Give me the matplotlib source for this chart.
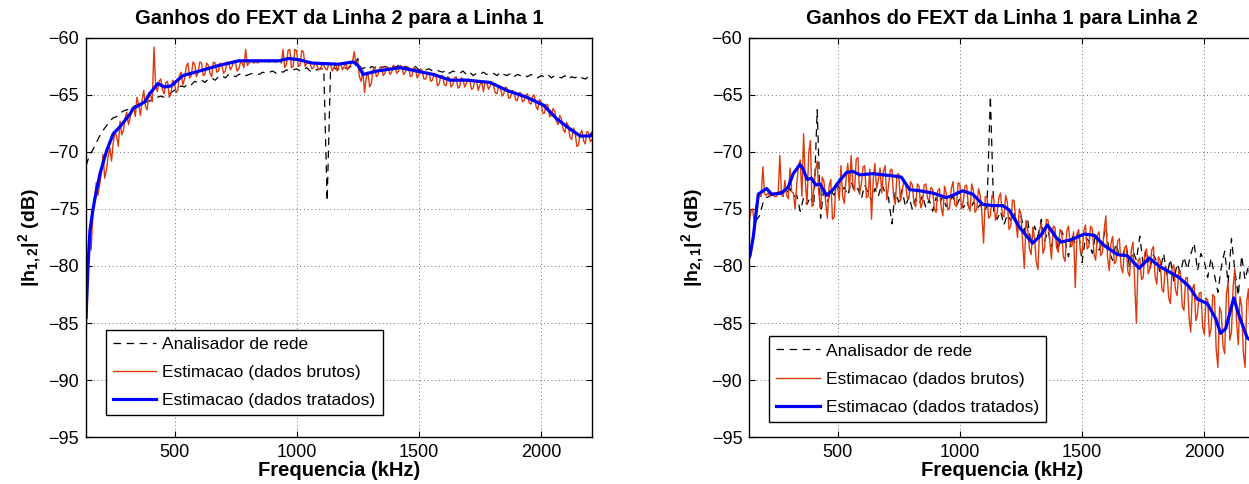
# FEXT gains between line 1 and line 2 (network analyser vs estimation)
import matplotlib
matplotlib.use('Agg')
import matplotlib.pyplot as plt
import numpy as np

plt.rcParams['font.family'] = ['Liberation Sans', 'DejaVu Sans']
plt.rcParams['mathtext.fontset'] = 'custom'
plt.rcParams['mathtext.rm'] = 'Liberation Sans'
plt.rcParams['mathtext.bf'] = 'Liberation Sans:bold'

# tone grids (kHz): analyser and raw estimates
freq = np.linspace(138, 2208, 150)
freq_raw = np.linspace(138, 2208, 299)

# ---- line 2 -> line 1 ----
analyser_21 = [
    -71.2, -70.3, -69.8, -69.2, -68.6, -68.1, -67.7, -67.3, -67.0, -66.9,
    -66.6, -66.4, -66.3, -66.2, -66.0, -65.9, -65.8, -65.6, -65.6, -65.5,
    -65.3, -65.2, -65.1, -65.2, -65.0, -64.8, -64.6, -64.4, -64.2, -64.3,
    -64.0, -64.1, -63.8, -63.9, -63.7, -63.9, -63.6, -63.5, -63.7, -63.4,
    -63.3, -63.5, -63.2, -63.2, -63.4, -63.2, -63.1, -63.3, -63.2, -63.1,
    -63.1, -63.2, -63.0, -63.1, -63.0, -62.9, -63.1, -62.9, -63.0, -62.8,
    -62.9, -62.8, -62.7, -62.9, -62.8, -62.6, -62.9, -62.7, -62.8, -62.7,
    -62.7, -74.3, -62.7, -62.6, -62.8, -62.6, -62.6, -62.7, -62.5, -62.4,
    -61.8, -62.7, -62.6, -62.8, -62.5, -62.6, -62.4, -62.6, -62.5, -62.7,
    -62.5, -62.6, -62.4, -62.7, -62.5, -62.6, -62.7, -62.5, -62.8, -62.7,
    -62.8, -62.7, -62.9, -62.8, -62.9, -63.0, -62.8, -63.1, -62.9, -63.0,
    -63.1, -62.9, -63.2, -63.0, -63.3, -63.1, -63.2, -63.0, -63.2, -63.1,
    -63.1, -63.3, -63.0, -63.2, -63.3, -63.1, -63.4, -63.2, -63.3, -63.2,
    -63.4, -63.2, -63.3, -63.5, -63.3, -63.4, -63.2, -63.5, -63.3, -63.4,
    -63.5, -63.3, -63.6, -63.4, -63.5, -63.3, -63.5, -63.6, -63.4, -63.5,
]
raw_21 = [
    -86.9, -79.5, -77.3, -78.6, -75.5, -74.0, -72.7, -73.8, -72.9, -71.8,
    -70.2, -72.3, -71.6, -70.4, -69.6, -70.8, -69.2, -68.3, -68.6, -69.5,
    -67.3, -68.5, -68.1, -67.0, -66.5, -67.6, -67.0, -66.2, -66.0, -66.9,
    -65.2, -65.9, -66.8, -65.5, -64.6, -66.0, -66.3, -64.8, -65.0, -65.6,
    -60.8, -64.2, -64.7, -63.8, -63.6, -64.5, -64.9, -63.9, -63.8, -65.2,
    -64.9, -63.7, -63.9, -64.8, -64.6, -63.3, -63.0, -64.1, -63.6, -62.5,
    -62.2, -63.5, -63.3, -62.1, -62.3, -63.4, -63.0, -62.1, -62.2, -63.3,
    -63.2, -62.2, -62.4, -63.1, -63.4, -62.1, -62.2, -63.0, -62.9, -62.2,
    -62.4, -63.1, -62.9, -62.1, -62.2, -62.8, -62.5, -62.0, -62.1, -62.9,
    -62.7, -62.1, -62.2, -62.6, -61.0, -62.4, -62.2, -62.0, -62.1, -62.2,
    -62.0, -62.2, -62.1, -62.0, -62.0, -62.1, -62.0, -62.1, -62.1, -62.0,
    -62.0, -62.1, -62.1, -62.0, -62.0, -62.2, -61.0, -62.6, -62.3, -61.1,
    -61.0, -62.6, -62.5, -61.0, -61.1, -62.5, -62.4, -61.1, -61.2, -62.5,
    -62.2, -62.1, -62.3, -62.7, -62.6, -62.2, -62.4, -62.8, -62.7, -62.3,
    -62.4, -62.7, -62.8, -62.2, -62.3, -62.9, -62.6, -62.2, -62.9, -62.4,
    -62.2, -62.8, -62.5, -62.2, -62.8, -62.5, -62.3, -62.0, -61.2, -62.4,
    -62.0, -63.4, -63.8, -62.8, -64.8, -63.5, -63.0, -64.3, -64.0, -62.8,
    -62.6, -63.4, -63.2, -62.6, -62.5, -63.3, -63.1, -62.5, -62.6, -63.2,
    -63.0, -62.4, -62.5, -63.1, -62.9, -62.4, -62.5, -63.2, -63.0, -62.5,
    -62.6, -63.4, -63.3, -62.6, -62.7, -63.5, -63.2, -62.7, -62.9, -63.6,
    -63.6, -63.1, -63.0, -63.8, -63.7, -63.1, -63.2, -64.2, -64.0, -63.3,
    -63.3, -64.1, -64.2, -63.4, -63.5, -64.3, -64.1, -63.5, -63.4, -64.4,
    -64.3, -63.5, -63.6, -64.3, -64.0, -63.6, -63.7, -64.5, -64.4, -63.7,
    -63.8, -64.6, -64.1, -63.8, -64.7, -63.9, -63.9, -64.5, -64.2, -63.9,
    -64.2, -64.8, -64.9, -64.2, -64.3, -65.1, -64.9, -64.3, -64.4, -65.3,
    -65.2, -64.6, -64.7, -65.4, -65.5, -64.8, -64.8, -65.6, -65.5, -65.0,
    -64.9, -65.7, -65.8, -65.1, -65.0, -66.0, -66.3, -65.4, -65.6, -66.6,
    -66.6, -65.8, -65.9, -66.9, -66.8, -66.2, -66.4, -67.3, -67.6, -66.8,
    -67.1, -68.0, -68.3, -67.4, -67.7, -68.7, -68.9, -67.9, -68.2, -69.5,
    -69.4, -68.4, -68.1, -69.0, -69.3, -68.2, -68.3, -69.1, -68.9,
]
treated_21_f = [138, 146, 154, 165, 175, 195, 222, 249, 276, 317, 330, 378,
                398, 432, 459, 486, 534, 601, 683, 764, 805, 927, 968, 1008,
                1062, 1171, 1231, 1250, 1272, 1327, 1423, 1491, 1559, 1628,
                1696, 1791, 1860, 1941, 2010, 2064, 2119, 2160, 2201, 2208]
treated_21 = [-84.5, -80.0, -76.9, -75.2, -74.0, -71.9, -69.9, -68.4, -67.8,
              -66.7, -66.2, -65.6, -64.9, -64.0, -64.3, -64.2, -63.3, -62.9,
              -62.4, -62.0, -62.0, -62.0, -61.8, -61.9, -62.2, -62.3, -62.1,
              -62.4, -63.2, -62.9, -62.6, -62.9, -63.2, -63.7, -63.7, -63.9,
              -64.6, -65.2, -65.9, -67.1, -68.0, -68.6, -68.6, -68.4]

# ---- line 1 -> line 2 ----
analyser_12 = [
    -79.5, -77.8, -76.0, -75.6, -74.5, -74.0, -73.9, -73.6, -73.8, -73.5,
    -73.4, -73.6, -73.2, -73.9, -73.8, -75.2, -74.0, -74.6, -73.9, -74.8,
    -66.3, -75.8, -73.0, -74.4, -73.4, -73.8, -72.9, -73.5, -73.1, -73.8,
    -72.6, -73.5, -73.2, -74.1, -72.9, -73.6, -74.3, -73.2, -73.9, -72.8,
    -73.6, -74.0, -76.3, -73.5, -74.4, -73.3, -74.8, -73.9, -75.0, -74.1,
    -74.6, -73.8, -74.9, -74.2, -75.2, -74.0, -74.6, -73.9, -74.8, -74.3,
    -73.9, -74.7, -74.1, -74.9, -74.3, -75.1, -74.4, -75.0, -74.6, -75.2,
    -74.8, -65.1, -75.4, -75.9, -75.2, -76.4, -75.5, -76.0, -75.3, -76.6,
    -75.6, -76.9, -76.0, -78.1, -76.5, -77.4, -75.9, -77.8, -76.9, -78.3,
    -77.0, -78.6, -76.9, -77.8, -79.2, -77.3, -78.0, -76.9, -79.7, -77.5,
    -77.8, -78.9, -77.2, -78.6, -77.9, -76.6, -78.8, -79.5, -78.0, -79.2,
    -79.0, -78.2, -80.1, -78.7, -79.5, -77.4, -79.8, -78.6, -80.2, -79.0,
    -79.6, -80.5, -78.9, -80.8, -79.4, -81.3, -79.8, -80.6, -79.2, -80.3,
    -79.0, -78.0, -80.4, -78.9, -79.6, -81.0, -79.3, -80.8, -82.3, -80.1,
    -78.7, -81.5, -77.6, -80.4, -82.6, -79.1, -81.2, -80.0, -82.1, -81.0,
]
raw_12 = [
    -76.0, -75.2, -75.0, -76.3, -74.8, -74.0, -73.8, -73.9, -71.3, -73.7,
    -73.8, -73.6, -73.9, -73.8, -73.8, -73.9, -73.9, -73.7, -70.3, -73.8,
    -73.9, -72.5, -73.8, -74.1, -71.4, -73.5, -73.6, -75.0, -72.7, -71.2,
    -70.7, -73.9, -68.4, -72.6, -74.6, -70.1, -69.0, -74.8, -73.3, -71.6,
    -70.8, -73.7, -75.0, -72.2, -72.6, -74.4, -75.8, -73.0, -72.4, -75.9,
    -75.7, -72.8, -73.1, -74.2, -71.2, -73.9, -74.5, -72.3, -71.0, -73.5,
    -70.3, -72.8, -73.4, -70.6, -70.5, -73.7, -72.8, -71.3, -71.2, -74.0,
    -73.9, -71.5, -75.9, -72.4, -71.0, -73.2, -72.5, -71.4, -73.6, -71.7,
    -71.2, -74.2, -73.0, -71.6, -71.5, -73.9, -74.6, -72.0, -71.9, -74.3,
    -73.6, -72.5, -72.7, -74.0, -74.1, -72.6, -72.9, -74.5, -74.8, -72.8,
    -73.0, -74.9, -74.5, -72.9, -72.8, -74.1, -74.2, -73.1, -73.3, -75.0,
    -75.3, -73.4, -73.2, -74.8, -75.6, -73.0, -73.6, -75.1, -74.9, -73.2,
    -72.6, -74.6, -74.8, -72.7, -72.8, -75.0, -74.4, -73.0, -72.9, -74.7,
    -75.2, -72.8, -73.4, -75.3, -75.0, -73.2, -73.8, -75.4, -78.0, -73.9,
    -74.0, -75.8, -75.6, -73.8, -74.1, -76.0, -75.3, -74.0, -73.6, -75.5,
    -75.7, -73.8, -74.4, -76.8, -76.5, -74.2, -74.3, -76.1, -77.5, -75.0,
    -75.4, -78.0, -80.2, -76.0, -76.8, -78.5, -79.0, -76.6, -77.5, -79.6,
    -80.3, -76.8, -76.2, -78.9, -78.4, -75.9, -76.0, -77.9, -79.4, -76.5,
    -76.6, -78.4, -78.8, -76.8, -77.0, -79.2, -79.6, -76.9, -76.5, -78.0,
    -78.3, -77.0, -81.9, -77.2, -76.8, -78.7, -78.9, -76.9, -76.4, -78.5,
    -78.3, -76.5, -76.7, -78.9, -79.5, -77.3, -77.0, -79.1, -78.8, -76.9,
    -75.6, -79.2, -80.4, -78.0, -77.4, -79.8, -79.6, -77.8, -77.6, -80.1,
    -80.6, -78.4, -78.2, -80.5, -80.9, -78.6, -77.9, -81.5, -85.0, -79.5,
    -79.3, -81.2, -81.0, -78.8, -78.5, -80.7, -80.2, -78.6, -78.3, -80.9,
    -81.6, -79.2, -79.5, -82.0, -82.3, -80.0, -80.4, -82.8, -83.3, -80.2,
    -79.9, -82.1, -82.6, -80.3, -80.7, -83.5, -83.9, -81.1, -81.0, -84.5,
    -85.8, -82.0, -81.6, -84.8, -84.2, -82.4, -82.3, -85.3, -86.0, -82.8,
    -83.0, -86.2, -85.5, -82.5, -82.7, -87.3, -88.9, -83.6, -84.1, -87.0,
    -87.7, -82.5, -81.4, -86.5, -85.8, -81.8, -80.2, -84.9, -86.9, -82.7,
    -83.5, -87.6, -88.9, -83.1, -82.0, -85.7, -86.1, -84.2, -85.0,
]
treated_12_f = [138, 141, 154, 175, 209, 229, 270, 297, 318, 345, 356, 375,
                393, 410, 427, 454, 481, 508, 536, 562, 590, 644, 685, 726,
                760, 794, 835, 889, 944, 971, 1011, 1052, 1093, 1134, 1175,
                1202, 1243, 1297, 1331, 1358, 1393, 1413, 1454, 1508, 1549,
                1590, 1644, 1685, 1733, 1774, 1814, 1855, 1896, 1937, 1971,
                2012, 2046, 2066, 2087, 2120, 2141, 2175, 2208]
treated_12 = [-79.2, -79.1, -77.5, -73.7, -73.2, -73.7, -73.6, -73.1, -71.9,
              -71.1, -71.4, -72.4, -72.3, -72.9, -72.8, -73.8, -73.3, -72.5,
              -71.8, -71.7, -72.0, -71.9, -72.0, -72.1, -72.2, -73.3, -73.4,
              -73.6, -74.0, -73.8, -73.4, -73.7, -74.6, -74.7, -74.7, -75.1,
              -76.6, -78.0, -77.3, -76.4, -77.5, -77.9, -77.7, -77.2, -77.3,
              -78.2, -79.0, -79.1, -80.2, -79.3, -80.0, -80.5, -81.0, -81.8,
              -82.9, -83.3, -84.6, -85.9, -85.5, -82.8, -84.3, -86.3, -86.8]

titles = ['Ganhos do FEXT da Linha 2 para a Linha 1',
          'Ganhos do FEXT da Linha 1 para Linha 2']
ylabels = [r'$\mathbf{|h_{1,2}|^2}$ (dB)', r'$\mathbf{|h_{2,1}|^2}$ (dB)']
legend_labels = ['Analisador de rede', 'Estimacao (dados brutos)',
                 'Estimacao (dados tratados)']

red = '#dc3a0c'

fig = plt.figure(figsize=(12.49, 4.84), dpi=100)
ax1 = fig.add_axes([0.0689, 0.0971, 0.4051, 0.8244])
ax2 = fig.add_axes([0.5999, 0.0971, 0.4051, 0.8244])

panels = [
    (ax1, analyser_21, raw_21, treated_21_f, treated_21, 0.055),
    (ax2, analyser_12, raw_12, treated_12_f, treated_12, 0.038),
]

for k, (ax, an, raw, tf, tr, leg_y) in enumerate(panels):
    ax.plot(freq, an, color='black', lw=0.9, dashes=(6, 4.5),
            label=legend_labels[0])
    ax.plot(freq_raw, raw, color=red, lw=1.0, label=legend_labels[1])
    ax.plot(tf, tr, color='blue', lw=2.3, label=legend_labels[2])

    ax.set_xlim(138, 2208)
    ax.set_ylim(-95, -60)
    ax.set_xticks([500, 1000, 1500, 2000])
    ax.set_yticks(np.arange(-95, -59, 5))
    ax.grid(True, color='#444444', linestyle=(0, (1, 3.5)), lw=0.6)
    ax.tick_params(direction='in', top=True, right=True, length=4,
                   labelsize=13, pad=5)
    for s in ax.spines.values():
        s.set_linewidth(1.0)

    ax.set_title(titles[k], fontsize=14.5, fontweight='bold', pad=10)
    ax.set_xlabel('Frequencia (kHz)', fontsize=14.5, fontweight='bold',
                  labelpad=0)
    ax.set_ylabel(ylabels[k], fontsize=14, fontweight='bold', labelpad=3)

    leg = ax.legend(loc='lower left', bbox_to_anchor=(0.0395, leg_y),
                    fontsize=12.5, frameon=True, fancybox=False,
                    framealpha=1, edgecolor='black', borderpad=0.4,
                    labelspacing=0.75, handlelength=2.5, handletextpad=0.35,
                    borderaxespad=0)
    leg.get_frame().set_linewidth(1.0)

fig.savefig('out.png', dpi=100)
